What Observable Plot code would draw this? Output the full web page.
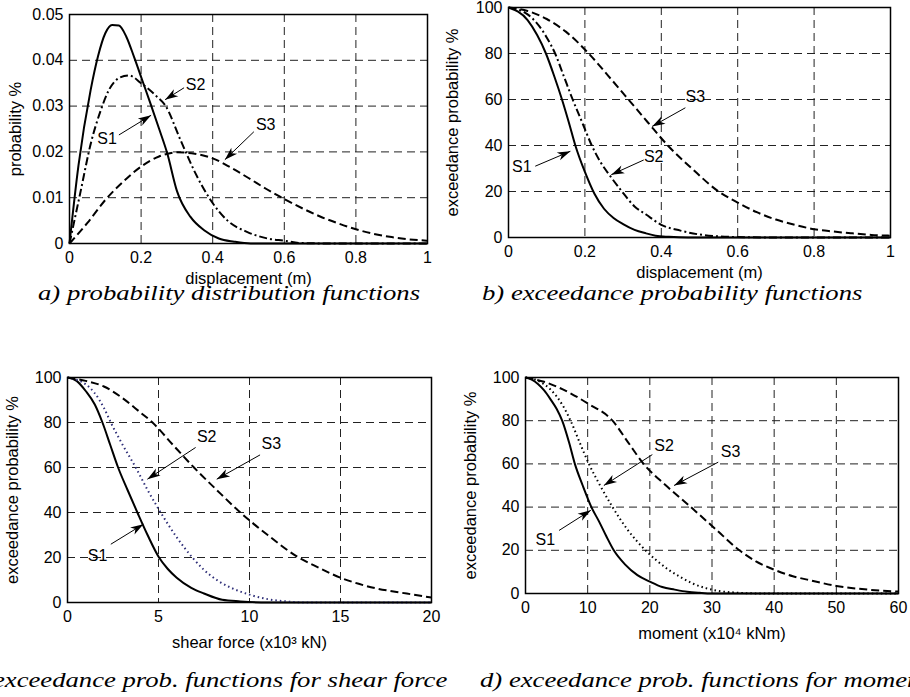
<!DOCTYPE html>
<html>
<head>
<meta charset="utf-8">
<script src="https://cdn.jsdelivr.net/npm/d3@7"></script>
<script src="https://cdn.jsdelivr.net/npm/@observablehq/plot@0.6"></script>
<style>
  html, body { margin: 0; padding: 0; background: #fff; overflow: hidden; }
  #root { position: relative; width: 910px; height: 697px; background: #fff; overflow: hidden; }
  .panel { position: absolute; }
  .caption { position: absolute; font-family: "Liberation Serif", "Times New Roman", serif; font-style: italic; font-size: 21px; line-height: 22px; color: #000; white-space: nowrap; }
</style>
</head>
<body>
<div id="root"></div>
<script>
// ---------- Panel a: probability distribution functions ----------
const aS1X = [0, 0.025, 0.059, 0.08, 0.1, 0.119, 0.138, 0.159, 0.18, 0.203, 0.226, 0.25, 0.273, 0.3, 0.338, 0.376, 0.417, 0.46, 0.506, 1];
const aS1Y = [0, 0.017, 0.0335, 0.041, 0.0459, 0.0477, 0.0476, 0.0451, 0.0408, 0.0357, 0.0306, 0.0251, 0.0197, 0.0115, 0.0058, 0.0029, 0.0011, 0.0004, 0, 0];
const aS2X = [0, 0.03, 0.06, 0.087, 0.11, 0.14, 0.166, 0.2, 0.245, 0.267, 0.31, 0.352, 0.394, 0.44, 0.497, 0.553, 0.6, 0.646, 0.74, 1];
const aS2Y = [0, 0.011, 0.022, 0.029, 0.0335, 0.0362, 0.0367, 0.035, 0.032, 0.0302, 0.0226, 0.0153, 0.0095, 0.0051, 0.0025, 0.0011, 0.0006, 0.0001, 0, 0];
const aS3X = [0, 0.05, 0.1, 0.15, 0.2, 0.25, 0.3, 0.35, 0.4, 0.45, 0.5, 0.55, 0.6, 0.65, 0.7, 0.75, 0.8, 0.85, 0.9, 0.95, 1];
const aS3Y = [0, 0.0045, 0.0095, 0.0135, 0.0168, 0.019, 0.0199, 0.0196, 0.0186, 0.0166, 0.0143, 0.0119, 0.0097, 0.0077, 0.0059, 0.0044, 0.0031, 0.0021, 0.0014, 0.0009, 0.0006];
const aXTicks = [0, 0.2, 0.4, 0.6, 0.8, 1];
const aXTickLabels = ["0", "0.2", "0.4", "0.6", "0.8", "1"];
const aYTicks = [0, 0.01, 0.02, 0.03, 0.04, 0.05];
const aYTickLabels = ["0", "0.01", "0.02", "0.03", "0.04", "0.05"];
const aXLabel = "displacement (m)";
const aYLabel = "probability %";
const aCaption = "a) probability distribution functions";
const aNotes = ["S2", "S1", "S3"];
const aNoteX = [0.352, 0.105, 0.548];
const aNoteY = [0.0346, 0.0229, 0.0258];
const aArrowFromX = [0.32, 0.138, 0.515];
const aArrowFromY = [0.034, 0.0237, 0.0244];
const aArrowToX = [0.267, 0.228, 0.434];
const aArrowToY = [0.0314, 0.028, 0.0183];

// ---------- Panel b: exceedance probability functions (displacement) ----------
const bS1X = [0, 0.05, 0.075, 0.098, 0.12, 0.14, 0.158, 0.175, 0.2, 0.225, 0.25, 0.275, 0.3, 0.33, 0.36, 0.385, 0.42, 0.47, 1];
const bS1Y = [100, 94.5, 88, 80, 70, 60, 50, 40, 28.5, 19, 12.5, 8.5, 5.8, 3.3, 1.8, 0.8, 0.3, 0, 0];
const bS2X = [0, 0.05, 0.1, 0.122, 0.145, 0.168, 0.193, 0.218, 0.24, 0.265, 0.297, 0.33, 0.36, 0.4, 0.45, 0.5, 0.55, 0.6, 0.7, 1];
const bS2Y = [100, 97, 87, 80, 70, 60, 50, 40, 33, 27, 20, 13.5, 10, 5.5, 3, 1.3, 0.5, 0.2, 0, 0];
const bS3X = [0, 0.05, 0.1, 0.15, 0.21, 0.26, 0.314, 0.365, 0.417, 0.48, 0.55, 0.6, 0.65, 0.7, 0.75, 0.8, 0.85, 0.9, 0.95, 1];
const bS3Y = [100, 98.5, 95, 89.5, 80, 70.5, 60, 50, 40, 30, 20, 15.2, 11, 7.8, 5.5, 3.6, 2.6, 1.8, 1.1, 0.8];
const bXTicks = [0, 0.2, 0.4, 0.6, 0.8, 1];
const bXTickLabels = ["0", "0.2", "0.4", "0.6", "0.8", "1"];
const bYTicks = [0, 20, 40, 60, 80, 100];
const bYTickLabels = ["0", "20", "40", "60", "80", "100"];
const bXLabel = "displacement (m)";
const bYLabel = "exceedance probability %";
const bCaption = "b) exceedance probability functions";
const bNotes = ["S3", "S2", "S1"];
const bNoteX = [0.489, 0.38, 0.035];
const bNoteY = [61, 34.9, 30.5];
const bArrowFromX = [0.463, 0.354, 0.07];
const bArrowFromY = [56.4, 33.7, 31];
const bArrowToX = [0.376, 0.269, 0.162];
const bArrowToY = [48.3, 27.3, 37.5];

// ---------- Panel c: exceedance prob. functions for shear force ----------
const cS1X = [0, 0.5, 1, 1.5, 1.92, 2.35, 2.78, 3.3, 3.84, 4.4, 5.03, 5.5, 6, 6.8, 7.5, 8.5, 9.5, 11, 20];
const cS1Y = [100, 98.5, 94, 88, 80, 70, 60, 50, 40, 30, 20, 15, 11, 6.5, 4, 1.2, 0.5, 0, 0];
const cS2X = [0, 0.5, 1, 1.5, 2, 2.38, 3, 3.75, 4.4, 5.12, 6, 6.86, 7.5, 8.3, 9, 10, 11, 12, 13, 20];
const cS2Y = [100, 99, 97, 93, 86.5, 80, 70.5, 60, 50, 40, 29, 20, 14.5, 9.5, 6.5, 3.5, 1.5, 0.5, 0, 0];
const cS3X = [0, 1, 2, 3, 4, 4.67, 5.8, 6.95, 8.2, 9.5, 11, 12.7, 13.8, 15, 16, 17, 18, 19, 20];
const cS3Y = [100, 98.5, 96, 91, 84.5, 80, 70, 60, 50, 40, 30, 20, 15.5, 11, 8.3, 6.2, 4.8, 3.5, 2.2];
const cXTicks = [0, 5, 10, 15, 20];
const cXTickLabels = ["0", "5", "10", "15", "20"];
const cYTicks = [0, 20, 40, 60, 80, 100];
const cYTickLabels = ["0", "20", "40", "60", "80", "100"];
const cXLabel = "shear force (x10³ kN)";
const cYLabel = "exceedance probability %";
const cCaption = "c) exceedance prob. functions for shear force";
const cNotes = ["S2", "S3", "S1"];
const cNoteX = [7.65, 11.2, 1.65];
const cNoteY = [73.6, 70.4, 20.7];
const cArrowFromX = [7.04, 10.58, 2.38];
const cArrowFromY = [68.9, 65.6, 25.9];
const cArrowToX = [4.39, 8.2, 4.17];
const cArrowToY = [54.8, 54.8, 34.8];

// ---------- Panel d: exceedance prob. functions for moment ----------
const dS1X = [0, 1, 2, 3, 4, 5, 5.9, 7, 7.94, 9.2, 10.6, 11.8, 13, 14.2, 16, 18, 20, 22, 24, 26, 28, 30, 60];
const dS1Y = [100, 99, 97, 94, 90, 85.5, 80, 70, 60, 50, 40, 33.5, 26.5, 20, 13.5, 8.5, 5.5, 3, 1.8, 0.8, 0.3, 0, 0];
const dS2X = [0, 2, 4, 6, 7.25, 8.7, 10.2, 12, 14, 16.3, 19.3, 21, 23, 25, 27, 29, 31, 34, 38, 60];
const dS2Y = [100, 98.5, 94.5, 87, 80, 70, 60, 50, 40, 30, 20, 15.5, 11, 7.5, 4.5, 2.5, 1.2, 0.4, 0, 0];
const dS3X = [0, 3, 6, 10, 14, 16.5, 19, 22.6, 26.6, 30.5, 34.4, 37, 40, 43, 46, 50, 55, 60];
const dS3Y = [100, 98, 94.5, 88, 80, 70, 60, 50, 40, 30, 20, 15, 11, 8, 6, 3.5, 1.8, 0.9];
const dXTicks = [0, 10, 20, 30, 40, 50, 60];
const dXTickLabels = ["0", "10", "20", "30", "40", "50", "60"];
const dYTicks = [0, 20, 40, 60, 80, 100];
const dYTickLabels = ["0", "20", "40", "60", "80", "100"];
const dXLabel = "moment (x10⁴ kNm)";
const dYLabel = "exceedance probability %";
const dCaption = "d) exceedance prob. functions for moment";
const dNotes = ["S2", "S3", "S1"];
const dNoteX = [22.3, 33, 3.2];
const dNoteY = [68.5, 65.4, 24.6];
const dArrowFromX = [20.4, 31, 5.4];
const dArrowFromY = [64.3, 60.8, 29.2];
const dArrowToX = [12.6, 23.9, 10.5];
const dArrowToY = [50, 50, 38.5];

// ---------- helpers ----------
const FONT = "'Liberation Sans', Arial, Helvetica, sans-serif";
const TICK_FS = 16, LABEL_FS = 16.5, NOTE_FS = 16;
const dartSymbol = {
  draw(ctx) {
    const L = 13, W = 4.2;
    ctx.moveTo(0, 0);
    ctx.lineTo(-L, -W);
    ctx.lineTo(-L * 0.72, 0);
    ctx.lineTo(-L, W);
    ctx.closePath();
  }
};
const toRows = (xs, ys, name) => xs.map((x, i) => ({x, y: ys[i], s: name}));

function panel(cfg) {
  const W = cfg.width - cfg.ml - cfg.mr;
  const H = cfg.height - cfg.mt - cfg.mb;
  const [x0, x1] = cfg.xDomain, [y0, y1] = cfg.yDomain;
  const notes = cfg.notes.map((t, i) => {
    const dxp = (cfg.toX[i] - cfg.fromX[i]) / (x1 - x0) * W;
    const dyp = -(cfg.toY[i] - cfg.fromY[i]) / (y1 - y0) * H;
    return {t, nx: cfg.noteX[i], ny: cfg.noteY[i], fx: cfg.fromX[i], fy: cfg.fromY[i], tx: cfg.toX[i], ty: cfg.toY[i],
            ang: Math.atan2(dyp, dxp) * 180 / Math.PI};
  });
  const xFmt = d => cfg.xTickLabels[cfg.xTicks.indexOf(d)];
  const yFmt = d => cfg.yTickLabels[cfg.yTicks.indexOf(d)];
  const marks = [
    Plot.gridX(cfg.xTicks, {stroke: "#222", strokeOpacity: 1, strokeWidth: 1, strokeDasharray: "8,5"}),
    Plot.gridY(cfg.yTicks, {stroke: "#222", strokeOpacity: 1, strokeWidth: 1, strokeDasharray: "8,5"}),
    Plot.axisX(cfg.xTicks, {tickSize: 0, tickPadding: 8, tickFormat: xFmt, label: null, fontSize: TICK_FS}),
    Plot.axisY(cfg.yTicks, {tickSize: 0, tickPadding: 6, tickFormat: yFmt, label: null, fontSize: TICK_FS}),
  ];
  for (const s of cfg.series) {
    marks.push(Plot.line(toRows(s.x, s.y, s.name), {x: "x", y: "y", stroke: s.color || "#000", strokeWidth: s.width || 2,
      strokeDasharray: s.dash, strokeLinecap: s.cap || "butt", curve: "monotone-x"}));
  }
  marks.push(
    Plot.frame({stroke: "#000", strokeWidth: 1.5}),
    Plot.link(notes, {x1: "fx", y1: "fy", x2: "tx", y2: "ty", stroke: "#000", strokeWidth: 1}),
    Plot.dot(notes, {x: "tx", y: "ty", symbol: dartSymbol, rotate: "ang", fill: "#000", stroke: "none", r: 5}),
    Plot.text(notes, {x: "nx", y: "ny", text: "t", fontSize: NOTE_FS, fill: "#000", textAnchor: "middle", lineAnchor: "middle"}),
    Plot.text([cfg.xLabel], {frameAnchor: "bottom", dy: cfg.xLabelDy, text: d => d, fontSize: LABEL_FS, textAnchor: "middle", lineAnchor: "middle", fill: "#000"}),
    Plot.text([cfg.yLabel], {frameAnchor: "left", dx: -cfg.yLabelDx, text: d => d, fontSize: LABEL_FS, rotate: -90, textAnchor: "middle", lineAnchor: "middle", fill: "#000"})
  );
  return Plot.plot({
    width: cfg.width, height: cfg.height,
    marginLeft: cfg.ml, marginRight: cfg.mr, marginTop: cfg.mt, marginBottom: cfg.mb,
    x: {domain: cfg.xDomain, axis: null},
    y: {domain: cfg.yDomain, axis: null},
    style: {fontFamily: FONT, fontSize: TICK_FS + "px", color: "#000", background: "transparent", overflow: "visible"},
    marks
  });
}

function place(node, left, top) {
  const div = document.createElement("div");
  div.className = "panel";
  div.style.left = left + "px";
  div.style.top = top + "px";
  div.appendChild(node);
  document.getElementById("root").appendChild(div);
}
function caption(text, style) {
  const div = document.createElement("div");
  div.className = "caption";
  div.textContent = text;
  Object.assign(div.style, style);
  document.getElementById("root").appendChild(div);
}

// Panel a
place(panel({
  width: 450, height: 290, ml: 69, mr: 23, mt: 14, mb: 47,
  xDomain: [0, 1], yDomain: [0, 0.05],
  xTicks: aXTicks, xTickLabels: aXTickLabels, yTicks: aYTicks, yTickLabels: aYTickLabels,
  xLabel: aXLabel, yLabel: aYLabel, xLabelDy: 35, yLabelDx: 54,
  series: [
    {name: "S1", x: aS1X, y: aS1Y},
    {name: "S2", x: aS2X, y: aS2Y, dash: "8,3,2,3"},
    {name: "S3", x: aS3X, y: aS3Y, dash: "8,4"}
  ],
  notes: aNotes, noteX: aNoteX, noteY: aNoteY, fromX: aArrowFromX, fromY: aArrowFromY, toX: aArrowToX, toY: aArrowToY
}), 0, 0);

// Panel b
place(panel({
  width: 470, height: 290, ml: 68, mr: 20, mt: 7, mb: 53,
  xDomain: [0, 1], yDomain: [0, 100],
  xTicks: bXTicks, xTickLabels: bXTickLabels, yTicks: bYTicks, yTickLabels: bYTickLabels,
  xLabel: bXLabel, yLabel: bYLabel, xLabelDy: 35, yLabelDx: 56,
  series: [
    {name: "S1", x: bS1X, y: bS1Y},
    {name: "S2", x: bS2X, y: bS2Y, dash: "8,3,2,3"},
    {name: "S3", x: bS3X, y: bS3Y, dash: "8,4"}
  ],
  notes: bNotes, noteX: bNoteX, noteY: bNoteY, fromX: bArrowFromX, fromY: bArrowFromY, toX: bArrowToX, toY: bArrowToY
}), 440, 0);

// Panel c
place(panel({
  width: 450, height: 330, ml: 67, mr: 19, mt: 47, mb: 58,
  xDomain: [0, 20], yDomain: [0, 100],
  xTicks: cXTicks, xTickLabels: cXTickLabels, yTicks: cYTicks, yTickLabels: cYTickLabels,
  xLabel: cXLabel, yLabel: cYLabel, xLabelDy: 40, yLabelDx: 55,
  series: [
    {name: "S1", x: cS1X, y: cS1Y},
    {name: "S2", x: cS2X, y: cS2Y, dash: "1.5,3", color: "#2e2e78", cap: "butt"},
    {name: "S3", x: cS3X, y: cS3Y, dash: "8,4"}
  ],
  notes: cNotes, noteX: cNoteX, noteY: cNoteY, fromX: cArrowFromX, fromY: cArrowFromY, toX: cArrowToX, toY: cArrowToY
}), 0, 330);

// Panel d
place(panel({
  width: 455, height: 330, ml: 70, mr: 12, mt: 47, mb: 67,
  xDomain: [0, 60], yDomain: [0, 100],
  xTicks: dXTicks, xTickLabels: dXTickLabels, yTicks: dYTicks, yTickLabels: dYTickLabels,
  xLabel: dXLabel, yLabel: dYLabel, xLabelDy: 40, yLabelDx: 55,
  series: [
    {name: "S1", x: dS1X, y: dS1Y},
    {name: "S2", x: dS2X, y: dS2Y, dash: "1.5,3"},
    {name: "S3", x: dS3X, y: dS3Y, dash: "8,4"}
  ],
  notes: dNotes, noteX: dNoteX, noteY: dNoteY, fromX: dArrowFromX, fromY: dArrowFromY, toX: dArrowToX, toY: dArrowToY
}), 455, 330);

const SX = "scaleX(1.27)";
caption(aCaption, {left: "38px", top: "282px", transform: SX, transformOrigin: "left center"});
caption(bCaption, {left: "482px", top: "282px", transform: SX, transformOrigin: "left center"});
caption(cCaption, {right: (910 - 447) + "px", top: "669px", transform: SX, transformOrigin: "right center"});
caption(dCaption, {left: "480px", top: "669px", transform: SX, transformOrigin: "left center"});
</script>
</body>
</html>
